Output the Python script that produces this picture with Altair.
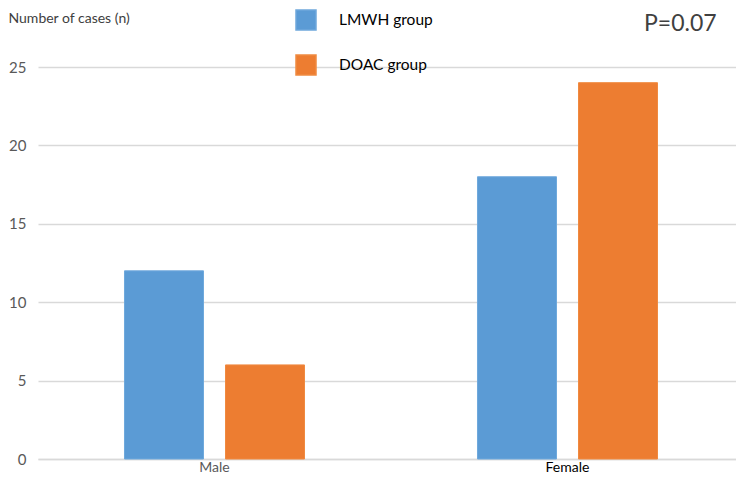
import altair as alt
import pandas as pd

categories = ["Male", "Male", "Female", "Female"]
groups = ["LMWH group", "DOAC group", "LMWH group", "DOAC group"]
values = [12, 6, 18, 24]
y_ticks = [0, 5, 10, 15, 20, 25]
group_order = ["LMWH group", "DOAC group"]
colors = ["#5B9BD5", "#ED7D31"]
strokes = ["#6FA8DC", "#F08A40"]

df = pd.DataFrame({"sex": categories, "group": groups, "n": values})
FONT = "Lato"
TOP = 59

bars = alt.Chart(df).mark_bar(strokeWidth=1).encode(
    x=alt.X("sex:N", sort=["Male", "Female"],
            scale=alt.Scale(paddingInner=0.49, paddingOuter=0.245, range=[0, 706]),
            axis=alt.Axis(title=None, labelAngle=0, ticks=False, domain=True,
                          domainColor="#D9D9D9", domainWidth=1.5,
                          labelFontSize=14, labelPadding=1,
                          labelColor={"expr": "datum.value == 'Female' ? '#000000' : '#595959'"},
                          labelFont=FONT)),
    xOffset=alt.XOffset("group:N", sort=group_order,
                        scale=alt.Scale(paddingInner=0.218, paddingOuter=0)),
    y=alt.Y("n:Q", scale=alt.Scale(domain=[0, 25], nice=False),
            axis=alt.Axis(values=y_ticks, title="Number of cases (n)", titleAngle=0,
                          titleX=-30, titleY=10 - TOP, titleAlign="left", titleBaseline="middle",
                          titleFontSize=14, titleFontWeight="normal", titleColor="#404040",
                          titleFont=FONT,
                          ticks=False, domain=False, grid=True, gridColor="#D9D9D9",
                          gridWidth=1.5, labelFontSize=15, labelColor="#595959",
                          labelPadding=12, labelFont=FONT)),
    color=alt.Color("group:N", sort=group_order,
                    scale=alt.Scale(domain=group_order, range=colors),
                    legend=alt.Legend(orient="none", legendX=257, legendY=-TOP + 1,
                                      title=None, symbolType="square", symbolSize=400,
                                      symbolStrokeWidth=1.5, labelFontSize=15.5,
                                      labelFont=FONT, labelColor="#000000",
                                      labelOffset=22, rowPadding=19, padding=0,
                                      symbolStrokeColor="#41719C")),
    stroke=alt.Stroke("group:N", sort=group_order,
                      scale=alt.Scale(domain=group_order, range=strokes), legend=None),
)

ptext = alt.Chart(pd.DataFrame({"t": ["P=0.07"]})).mark_text(
    align="left", baseline="middle", fontSize=23, font=FONT, color="#404040"
).encode(text="t:N", x=alt.value(606), y=alt.value(16 - TOP))

chart = alt.layer(bars, ptext).properties(
    width=698, height=392,
    autosize=alt.AutoSizeParams(type="none"),
    padding={"left": 30, "top": TOP, "right": 0, "bottom": 18},
).configure_view(stroke=None)

chart.save("out.html", embed_options={"renderer": "svg", "actions": False})
